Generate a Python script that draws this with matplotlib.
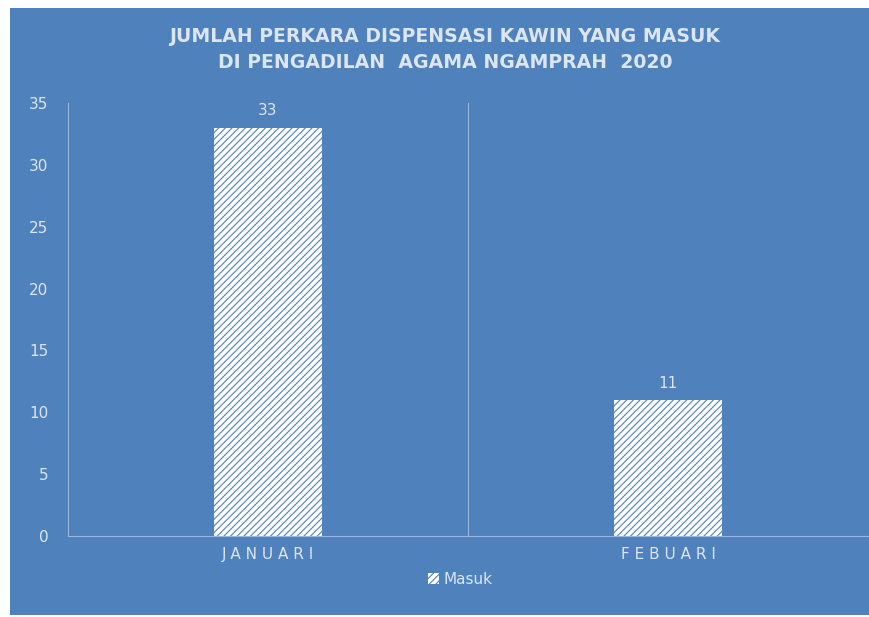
import matplotlib
matplotlib.use("Agg")
import matplotlib.pyplot as plt
from matplotlib.patches import Patch

# data
categories = ["JANUARI", "FEBUARI"]
masuk = [33, 11]
yticks = [0, 5, 10, 15, 20, 25, 30, 35]

BG = "#4F81BD"
LIGHT = "#DCE6F2"
LINE = "#9DB6DA"

plt.rcParams['font.family'] = ['Liberation Sans Narrow', 'DejaVu Sans']
plt.rcParams['hatch.linewidth'] = 0.8

fig = plt.figure(figsize=(8.69, 6.17), dpi=100, facecolor="white")

# blue chart area as a background axes
bg = fig.add_axes([10 / 869, 2 / 617, 859 / 869, 607 / 617], zorder=0)
bg.set_facecolor(BG)
bg.set_xticks([])
bg.set_yticks([])
for s in bg.spines.values():
    s.set_visible(False)

ax = fig.add_axes([68 / 869, 81 / 617, 800 / 869, 433 / 617], zorder=1)
ax.set_facecolor("none")

x = range(len(categories))
ax.bar(x, masuk, width=0.27, color="white", edgecolor=BG,
       hatch="/////", linewidth=0, label="Masuk")

for xi, v in zip(x, masuk):
    ax.text(xi, v + 0.75, str(v), ha="center", va="bottom",
            color=LIGHT, fontsize=11)

ax.set_xlim(-0.5, 1.5)
ax.set_ylim(0, 35)
ax.set_yticks(yticks)
ax.set_yticklabels([str(t) for t in yticks], color=LIGHT, fontsize=11)
ax.set_xticks(list(x))
ax.set_xticklabels([" ".join(c) for c in categories], color=LIGHT, fontsize=11)
ax.tick_params(axis="both", length=0)
ax.tick_params(axis="y", pad=14)
ax.tick_params(axis="x", pad=8)

for s in ["top", "right"]:
    ax.spines[s].set_visible(False)
ax.spines["left"].set_color(LINE)
ax.spines["bottom"].set_color(LINE)
ax.axvline(0.5, color=LINE, linewidth=0.8)

fig.text(445 / 869, 1 - 37 / 617, "JUMLAH PERKARA DISPENSASI KAWIN YANG MASUK",
         ha="center", va="center", color=LIGHT, fontsize=13.6, fontweight="bold")
fig.text(445 / 869, 1 - 62 / 617, "DI PENGADILAN  AGAMA NGAMPRAH  2020",
         ha="center", va="center", color=LIGHT, fontsize=13.6, fontweight="bold")

fig.legend(handles=[Patch(facecolor="white", edgecolor=BG, hatch="/////",
                          linewidth=0, label="Masuk")],
           loc="center", bbox_to_anchor=(460 / 869, 1 - 579 / 617),
           frameon=False, handlelength=0.7, handleheight=0.7,
           handletextpad=0.3, fontsize=11, labelcolor=LIGHT)

fig.savefig("out.png", dpi=100, facecolor="white")
